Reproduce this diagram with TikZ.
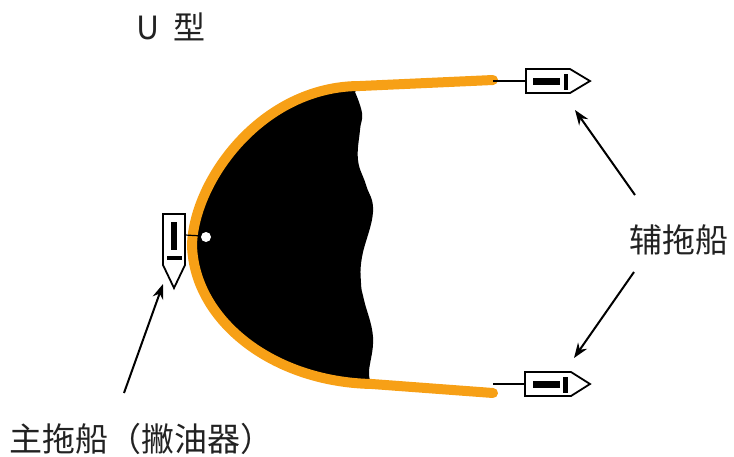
\documentclass[tikz,border=0pt]{standalone}
\usepackage{fontspec}
\newfontfamily\cjk{Noto Sans CJK SC}
\usetikzlibrary{arrows.meta}
\definecolor{boomorange}{RGB}{247,160,22}
\definecolor{labelgray}{RGB}{34,34,34}
\tikzset{
  boom/.style={draw=boomorange, line width=10pt, line cap=round},
  hull/.style={draw=black, fill=white, line width=1.8pt, line join=miter},
  bar/.style={fill=black, draw=none},
  towline/.style={draw=black, line width=1.2pt},
  pointer/.style={draw=black, line width=2pt, -{Stealth[length=15pt,width=11pt]}},
  caption/.style={font=\cjk\fontsize{32}{38}\selectfont, text=labelgray, inner sep=0pt}
}
\begin{document}
\begin{tikzpicture}[x=1pt, y=-1pt]
  \useasboundingbox (0,0) rectangle (734,456);

  % oil slick held inside the boom, ragged edge on the open side
  \fill[black] (360,86) .. controls (262,86) and (194,180) .. (192,245)
      .. controls (194,320) and (272,382) .. (372,384)
      -- plot[smooth, tension=0.7] coordinates {(372,384) (369,372) (373,337) (364,300) (361,283) (362,257) (373,212) (366,185) (358,160) (360,130) (362,113) (355,92)}
      -- cycle;

  % U-shaped boom
  \draw[boom] (493,80) -- (360,86) .. controls (262,86) and (194,180) .. (192,245)
      .. controls (194,320) and (272,382) .. (372,384) -- (493,393);

  % main tug (skimmer), bow pointing down
  \draw[towline] (185,235) -- (203,236);
  \node[circle, fill=white, minimum size=10pt, inner sep=0pt] (dot) at (206,237) {};
  \draw[hull] (163,214) -- (185,214) -- (185,265) -- (174,288) -- (163,265) -- cycle;
  \fill[bar] (171,222) rectangle (177,250);
  \fill[bar] (167,256) rectangle (182,260);
  \coordinate (mainbow) at (163,284);

  % upper auxiliary tug
  \draw[towline] (493,81) -- (526,81);
  \draw[hull] (526,69) -- (570,69) -- (590,81) -- (570,93) -- (526,93) -- cycle;
  \fill[bar] (533,78) rectangle (560,85);
  \fill[bar] (564,74) rectangle (568,90);
  \coordinate (uppertug) at (575,110);

  % lower auxiliary tug
  \draw[towline] (493,384) -- (525,384);
  \draw[hull] (525,372) -- (571,372) -- (590,384) -- (571,396) -- (525,396) -- cycle;
  \fill[bar] (533,381) rectangle (560,388);
  \fill[bar] (563,377) rectangle (568,393);
  \coordinate (lowertug) at (574,358);

  % captions
  \node[caption, anchor=west] (title) at (136,27) {U\hspace{14pt}型};
  \node[caption, font=\cjk\fontsize{33}{40}\selectfont, anchor=west] (aux) at (629,240) {辅拖船};
  \node[caption, font=\cjk\fontsize{33}{40}\selectfont, anchor=west] (main) at (9,439) {主拖船（撇油器）};

  % pointers
  \coordinate (auxup) at (635,195);
  \coordinate (auxdown) at (634,272);
  \coordinate (mainfoot) at (124,393);
  \draw[pointer] (auxup) -- (uppertug);
  \draw[pointer] (auxdown) -- (lowertug);
  \draw[pointer] (mainfoot) -- (mainbow);
\end{tikzpicture}
\end{document}
